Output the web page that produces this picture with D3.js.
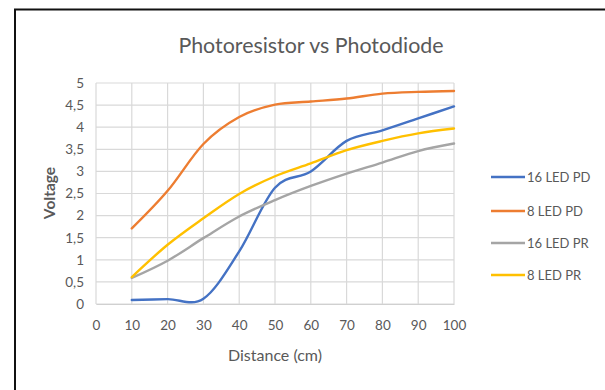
<!DOCTYPE html>
<html>
<head>
<meta charset="utf-8">
<script src="https://cdn.jsdelivr.net/npm/d3@7"></script>
<style>
  html, body { margin: 0; padding: 0; background: #fff; }
  svg { display: block; }
  text { font-family: Lato, "Open Sans", sans-serif; }
</style>
</head>
<body>
<svg id="chart" width="605" height="390"></svg>
<script>
// Distance in cm
const distances = [10, 20, 30, 40, 50, 60, 70, 80, 90, 100];

// Measured voltage per configuration
const led16PD = [0.09, 0.11, 0.12, 1.19, 2.63, 3.0, 3.69, 3.93, 4.2, 4.47];
const led8PD  = [1.71, 2.56, 3.62, 4.23, 4.51, 4.58, 4.65, 4.76, 4.8, 4.82];
const led16PR = [0.59, 0.98, 1.49, 1.98, 2.35, 2.67, 2.95, 3.2, 3.46, 3.63];
const led8PR  = [0.61, 1.34, 1.94, 2.49, 2.89, 3.18, 3.48, 3.69, 3.86, 3.97];

const seriesNames  = ["16 LED PD", "8 LED PD", "16 LED PR", "8 LED PR"];
const seriesValues = [led16PD, led8PD, led16PR, led8PR];
const seriesColors = ["#4472c4", "#ed7d31", "#a5a5a5", "#ffc000"];

const xTicks = [0, 10, 20, 30, 40, 50, 60, 70, 80, 90, 100];
const yTicks = [0, 0.5, 1, 1.5, 2, 2.5, 3, 3.5, 4, 4.5, 5];

const svg = d3.select("#chart");

// Outer frame of the chart object
svg.append("rect")
  .attr("x", 15).attr("y", 9.5)
  .attr("width", 620).attr("height", 420)
  .attr("fill", "#fff")
  .attr("stroke", "#111").attr("stroke-width", 2);

const plot = { left: 96, right: 454, top: 83, bottom: 304 };

const x = d3.scaleLinear().domain([0, 100]).range([plot.left, plot.right]);
const y = d3.scaleLinear().domain([0, 5]).range([plot.bottom, plot.top]);

const fmt = d => String(d).replace(".", ",");

// Title
svg.append("text")
  .attr("x", 311).attr("y", 53)
  .attr("text-anchor", "middle")
  .attr("font-size", 21.4)
  .attr("fill", "#595959")
  .text("Photoresistor vs Photodiode");

// Gridlines
const grid = svg.append("g");
grid.selectAll("line.h").data(yTicks).join("line")
  .attr("x1", plot.left).attr("x2", plot.right)
  .attr("y1", d => y(d)).attr("y2", d => y(d))
  .attr("stroke", "#d9d9d9").attr("stroke-width", 1.2);
grid.selectAll("line.v").data(xTicks).join("line")
  .attr("x1", d => x(d)).attr("x2", d => x(d))
  .attr("y1", plot.top).attr("y2", plot.bottom)
  .attr("stroke", "#d9d9d9").attr("stroke-width", 1.2);

// Axes (labels only, gridlines drawn above)
const yAxis = d3.axisLeft(y).tickValues(yTicks).tickFormat(fmt).tickSize(0).tickPadding(12);
const gy = svg.append("g").attr("transform", `translate(${plot.left},0)`).call(yAxis);
gy.select(".domain").remove();
gy.selectAll("text").attr("font-size", 13.5).attr("fill", "#595959")
  .attr("font-family", "Lato, sans-serif");

const xAxis = d3.axisBottom(x).tickValues(xTicks).tickFormat(fmt).tickSize(0).tickPadding(16);
const gx = svg.append("g").attr("transform", `translate(0,${plot.bottom})`).call(xAxis);
gx.select(".domain").attr("stroke", "#d0d0d0").attr("stroke-width", 1.2);
gx.selectAll("text").attr("font-size", 13.5).attr("fill", "#595959")
  .attr("font-family", "Lato, sans-serif");

// Axis titles
svg.append("text")
  .attr("transform", "translate(55,193) rotate(-90)")
  .attr("text-anchor", "middle")
  .attr("font-size", 15.5)
  .attr("font-weight", "bold")
  .attr("fill", "#595959")
  .text("Voltage");

svg.append("text")
  .attr("x", 275).attr("y", 361)
  .attr("text-anchor", "middle")
  .attr("font-size", 16)
  .attr("fill", "#595959")
  .text("Distance (cm)");

// Smoothed series lines
const line = d3.line()
  .x((d, i) => x(distances[i]))
  .y(d => y(d))
  .curve(d3.curveCatmullRom.alpha(0));

svg.append("g").selectAll("path").data(seriesValues).join("path")
  .attr("d", d => line(d))
  .attr("fill", "none")
  .attr("stroke", (d, i) => seriesColors[i])
  .attr("stroke-width", 2.4)
  .attr("stroke-linecap", "round")
  .attr("stroke-linejoin", "round");

// Legend
const legendY = [177, 211, 243, 275];
const legend = svg.append("g").selectAll("g").data(seriesNames).join("g")
  .attr("transform", (d, i) => `translate(491,${legendY[i]})`);
legend.append("line")
  .attr("x1", 0).attr("x2", 34)
  .attr("stroke", (d, i) => seriesColors[i])
  .attr("stroke-width", 2.4);
legend.append("text")
  .attr("x", 36).attr("y", 4.5)
  .attr("font-size", 13)
  .attr("fill", "#595959")
  .text(d => d);
</script>
</body>
</html>
